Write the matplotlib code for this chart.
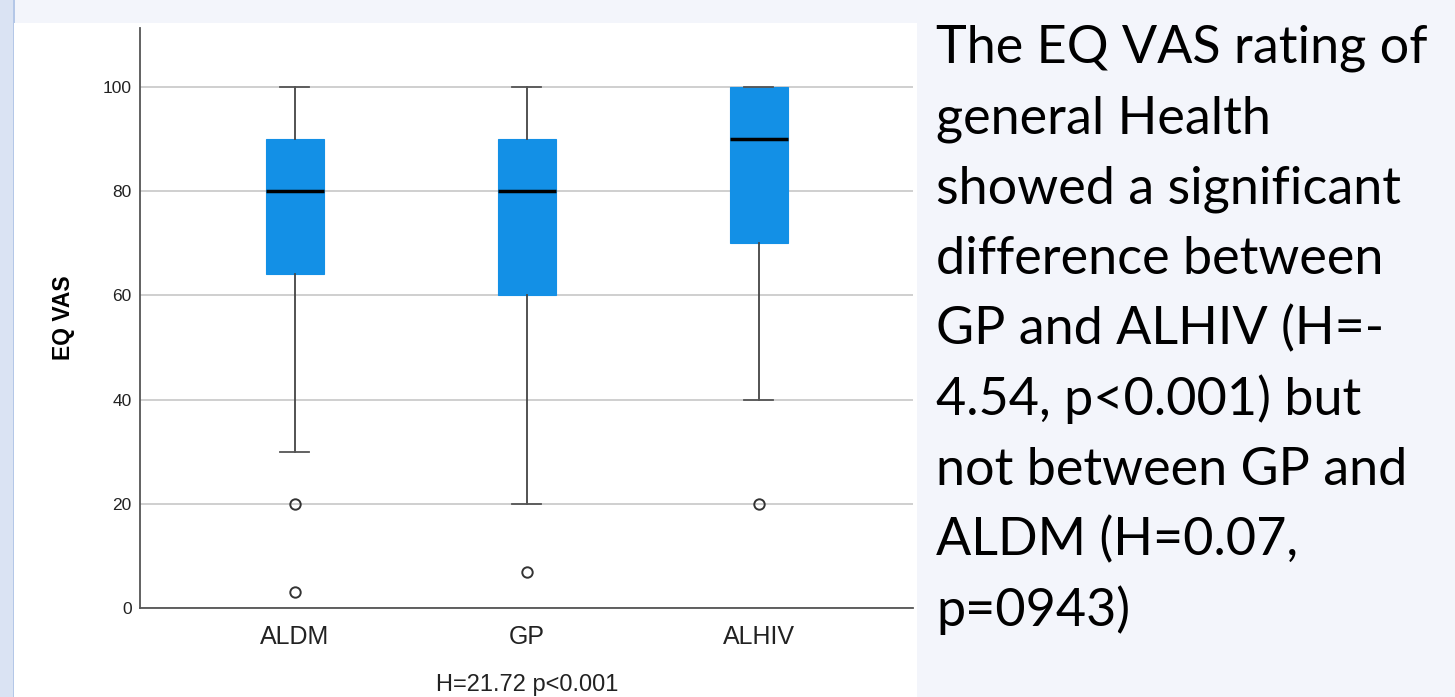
import matplotlib
matplotlib.use("Agg")
import matplotlib.pyplot as plt
from matplotlib.patches import Rectangle

# Data -----------------------------------------------------------------
groups = ["ALDM", "GP", "ALHIV"]
whisker_low = [30, 20, 40]
q1 = [64, 60, 70]
median = [80, 80, 90]
q3 = [90, 90, 100]
whisker_high = [100, 100, 100]
outliers = [[20, 3], [7], [20]]
y_ticks = [0, 20, 40, 60, 80, 100]

note_lines = ["The EQ VAS rating of",
              "general Health",
              "showed a significant",
              "difference between",
              "GP and ALHIV (H=-",
              "4.54, p<0.001) but",
              "not between GP and",
              "ALDM (H=0.07,",
              "p=0943)"]

# Figure and backgrounds ------------------------------------------------
W, H = 1455, 697
fig = plt.figure(figsize=(W / 100, H / 100), dpi=100, facecolor="#f3f5fb")
fig.patches.append(Rectangle((0, 0), 13 / W, 1, transform=fig.transFigure,
                             facecolor="#dae3f3", edgecolor="none", zorder=-5))
fig.patches.append(Rectangle((13 / W, 0), 1.5 / W, 1, transform=fig.transFigure,
                             facecolor="#b4c7e7", edgecolor="none", zorder=-5))
fig.patches.append(Rectangle((14.5 / W, 0), (917 - 14.5) / W, 1 - 23 / H,
                             transform=fig.transFigure,
                             facecolor="white", edgecolor="none", zorder=-5))

ax = fig.add_axes([140 / W, 1 - 608 / H, (913 - 140) / W, (608 - 28) / H])
ax.set_zorder(2)
ax.set_facecolor("white")

stats = []
for i, g in enumerate(groups):
    stats.append({"label": g, "whislo": whisker_low[i], "q1": q1[i],
                  "med": median[i], "q3": q3[i], "whishi": whisker_high[i],
                  "fliers": outliers[i]})

ax.bxp(stats, positions=[1, 2, 3], widths=0.25, capwidths=0.125,
       patch_artist=True, showfliers=True,
       boxprops=dict(facecolor="#1390e6", edgecolor="#1390e6", linewidth=0.8),
       medianprops=dict(color="black", linewidth=2.5),
       whiskerprops=dict(color="#444444", linewidth=1.3),
       capprops=dict(color="#555555", linewidth=1.3),
       flierprops=dict(marker="o", markerfacecolor="none",
                       markeredgecolor="#333333", markersize=7.5,
                       markeredgewidth=1.4))

ax.set_xlim(0.332, 3.664)
ax.set_ylim(0, 111.3)
ax.set_yticks(y_ticks)
ax.yaxis.grid(True, color="#cfcfcf", linewidth=1.4)
ax.set_axisbelow(True)
for s in ["top", "right"]:
    ax.spines[s].set_visible(False)
for s in ["left", "bottom"]:
    ax.spines[s].set_color("#555555")
    ax.spines[s].set_linewidth(1.3)

ax.tick_params(axis="y", length=0, pad=6, labelsize=12.5, labelcolor="#222222")
ax.tick_params(axis="x", length=0, pad=12, labelsize=18, labelcolor="#222222")
for lab in ax.get_xticklabels() + ax.get_yticklabels():
    lab.set_fontfamily("Liberation Sans")

ax.set_ylabel("EQ VAS", fontsize=16.5, fontweight="bold",
              fontfamily="Liberation Sans", labelpad=20)

fig.text(527 / W, 1 / H, "H=21.72 p<0.001", ha="center", va="bottom",
         fontsize=17, fontfamily="Liberation Sans", color="#222222")

# Note on the right --------------------------------------------------------
for k, line in enumerate(note_lines):
    fig.text(936 / W, 1 - (63 + 70.4 * k) / H, line, ha="left",
             va="baseline", fontsize=37.5, fontfamily="Lato", color="black")

fig.savefig("out.png", dpi=100, facecolor=fig.get_facecolor())
